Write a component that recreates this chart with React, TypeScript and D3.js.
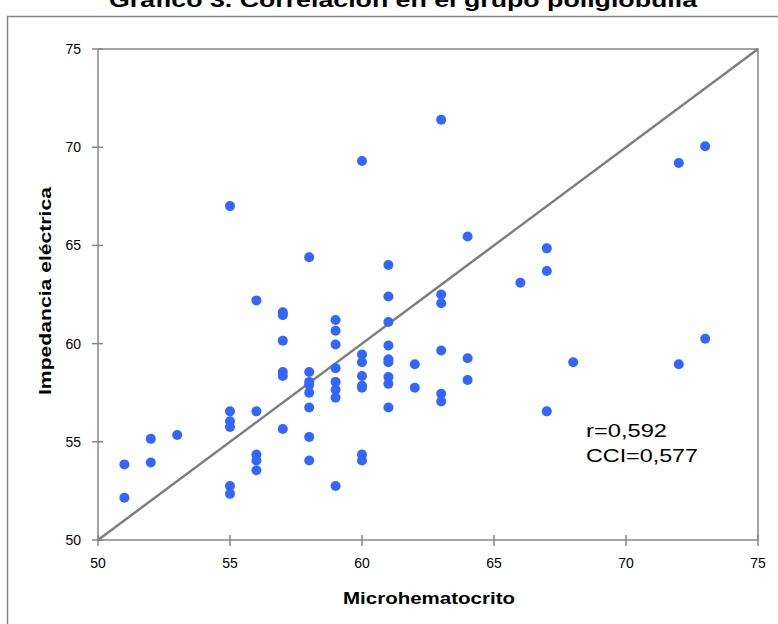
import React from 'react';
import * as d3 from 'd3';

// Microhematocrito (x) vs Impedancia eléctrica (y)
const points: [number, number][] = [
  [51, 53.85], [51, 52.15],
  [52, 55.15], [52, 53.95],
  [53, 55.35],
  [55, 67.0], [55, 56.55], [55, 56.05], [55, 55.75], [55, 52.75], [55, 52.35],
  [56, 62.2], [56, 56.55], [56, 54.35], [56, 54.05], [56, 53.55],
  [57, 61.6], [57, 61.45], [57, 60.15], [57, 58.55], [57, 58.35], [57, 55.65],
  [58, 64.4], [58, 58.55], [58, 58.05], [58, 57.9], [58, 57.5], [58, 56.75], [58, 55.25], [58, 54.05],
  [59, 61.2], [59, 60.65], [59, 59.95], [59, 58.75], [59, 58.05], [59, 57.65], [59, 57.25], [59, 52.75],
  [60, 69.3], [60, 59.45], [60, 59.05], [60, 58.35], [60, 57.85], [60, 57.75], [60, 54.35], [60, 54.05],
  [61, 64.0], [61, 62.4], [61, 61.1], [61, 59.9], [61, 59.2], [61, 59.05], [61, 58.3], [61, 57.95], [61, 56.75],
  [62, 58.95], [62, 57.75],
  [63, 71.4], [63, 62.5], [63, 62.05], [63, 59.65], [63, 57.45], [63, 57.05],
  [64, 65.45], [64, 59.25], [64, 58.15],
  [66, 63.1],
  [67, 64.85], [67, 63.7], [67, 56.55],
  [68, 59.05],
  [72, 69.2], [72, 58.95],
  [73, 70.05], [73, 60.25],
];

const xTicks = [50, 55, 60, 65, 70, 75];
const yTicks = [50, 55, 60, 65, 70, 75];
const identity: [number, number][] = [[50, 50], [75, 75]];
const statLines = ['r=0,592', 'CCI=0,577'];

const title = 'Gráfico 3. Correlación en el grupo poliglobulia';

export default function App() {
  const W = 778, H = 624;
  const left = 98, right = 758, top = 49, bottom = 540;

  const x = d3.scaleLinear().domain([50, 75]).range([left, right]);
  const y = d3.scaleLinear().domain([50, 75]).range([bottom, top]);
  const line = d3.line<[number, number]>().x(d => x(d[0])).y(d => y(d[1]));

  const grey = '#878787';
  const font = 'Arial, "Liberation Sans", sans-serif';

  return (
    <div style={{ position: 'absolute', left: 0, top: 0 }}>
      <svg width={W} height={H} style={{ display: 'block', background: '#fff' }}>
        {/* outer frame */}
        <rect x={7.5} y={16.5} width={W + 20} height={H + 20} fill="none" stroke={grey} strokeWidth={1.5} />
        <text x={403} y={7} textAnchor="middle" fontFamily={font} fontWeight="bold" fontSize={20}
          textLength={588} lengthAdjust="spacingAndGlyphs">{title}</text>

        {/* plot border */}
        <rect x={left} y={top} width={right - left} height={bottom - top} fill="none" stroke={grey} strokeWidth={1.5} />

        {xTicks.map(t => (
          <g key={'x' + t}>
            <line x1={x(t)} x2={x(t)} y1={bottom - 5} y2={bottom + 6} stroke={grey} strokeWidth={1.5} />
            <text x={x(t)} y={568} textAnchor="middle" fontFamily={font} fontSize={14}>{t}</text>
          </g>
        ))}
        {yTicks.map(t => (
          <g key={'y' + t}>
            <line x1={left - 6} x2={left + 5} y1={y(t)} y2={y(t)} stroke={grey} strokeWidth={1.5} />
            <text x={81} y={y(t) + 5} textAnchor="end" fontFamily={font} fontSize={14}>{t}</text>
          </g>
        ))}

        <path d={line(identity) || ''} fill="none" stroke="#7f7f7f" strokeWidth={2.5} />

        {points.map((p, i) => (
          <circle key={i} cx={x(p[0])} cy={y(p[1])} r={5} fill="#3366ff" />
        ))}

        {statLines.map((s, i) => (
          <text key={s} x={586} y={437 + i * 25} fontFamily={font} fontSize={19}
            textLength={i === 0 ? 81 : 112} lengthAdjust="spacingAndGlyphs">{s}</text>
        ))}

        <text x={429} y={604} textAnchor="middle" fontFamily={font} fontWeight="bold" fontSize={17}
          textLength={172} lengthAdjust="spacingAndGlyphs">Microhematocrito</text>
        <text transform="translate(51,291) rotate(-90)" textAnchor="middle" fontFamily={font} fontWeight="bold"
          fontSize={17} textLength={208} lengthAdjust="spacingAndGlyphs">Impedancia eléctrica</text>
      </svg>
    </div>
  );
}
